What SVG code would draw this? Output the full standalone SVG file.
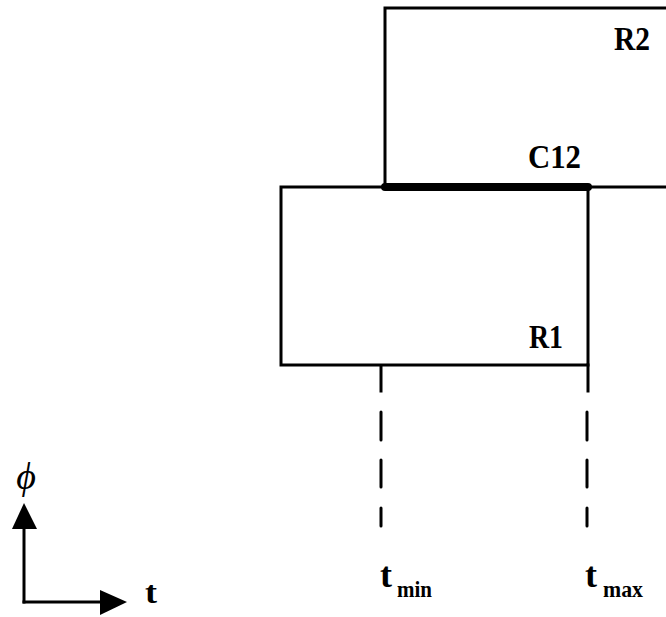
<svg xmlns="http://www.w3.org/2000/svg" width="666" height="617" viewBox="0 0 666 617">
<style>
.ln{stroke:#000;stroke-width:3;fill:none;stroke-linecap:square}
.dash{stroke:#000;stroke-width:3;fill:none;stroke-linecap:round}
.lbl{font-family:"Liberation Serif","Times New Roman",serif;font-weight:bold;fill:#000}
</style>
<rect width="666" height="617" fill="#fff"/>
<g id="R2">
<polyline class="ln" points="666,8 385,8 385,187 666,187"/>
<text class="lbl" x="614" y="50" font-size="34" textLength="36" lengthAdjust="spacingAndGlyphs">R2</text>
</g>
<g id="R1">
<rect class="ln" x="281" y="187" width="307" height="178"/>
<text class="lbl" x="529" y="348" font-size="34" textLength="34" lengthAdjust="spacingAndGlyphs">R1</text>
</g>
<g id="C12">
<line x1="385" y1="187" x2="588" y2="187" stroke="#000" stroke-width="8" stroke-linecap="round"/>
<text class="lbl" x="528" y="168" font-size="34" textLength="53" lengthAdjust="spacingAndGlyphs">C12</text>
</g>
<g id="connectors">
<line class="ln" x1="381" y1="366" x2="381" y2="391"/>
<line class="ln" x1="588" y1="365" x2="588" y2="391"/>
<path class="dash" d="M381,412V440M381,460V487M381,508V526M587,412V440M587,460V487M587,508V526"/>
<line class="ln" x1="24" y1="527" x2="24" y2="602"/>
<line class="ln" x1="24" y1="602" x2="102" y2="602"/>
<polygon points="24,503 12,529 37,529" fill="#000"/>
<polygon points="127,602 100,590 100,615" fill="#000"/>
</g>
<g id="labels">
<text x="26" y="489" font-size="38" font-family="Liberation Serif,serif" font-style="italic" text-anchor="middle">ϕ</text>
<text class="lbl" x="145" y="603" font-size="32" textLength="12" lengthAdjust="spacingAndGlyphs">t</text>
<text class="lbl" x="380" y="587" font-size="36" textLength="12" lengthAdjust="spacingAndGlyphs">t</text>
<text class="lbl" x="397" y="597" font-size="24" textLength="35" lengthAdjust="spacingAndGlyphs">min</text>
<text class="lbl" x="585" y="587" font-size="36" textLength="12" lengthAdjust="spacingAndGlyphs">t</text>
<text class="lbl" x="603" y="597" font-size="24" textLength="40" lengthAdjust="spacingAndGlyphs">max</text>
</g>
</svg>
